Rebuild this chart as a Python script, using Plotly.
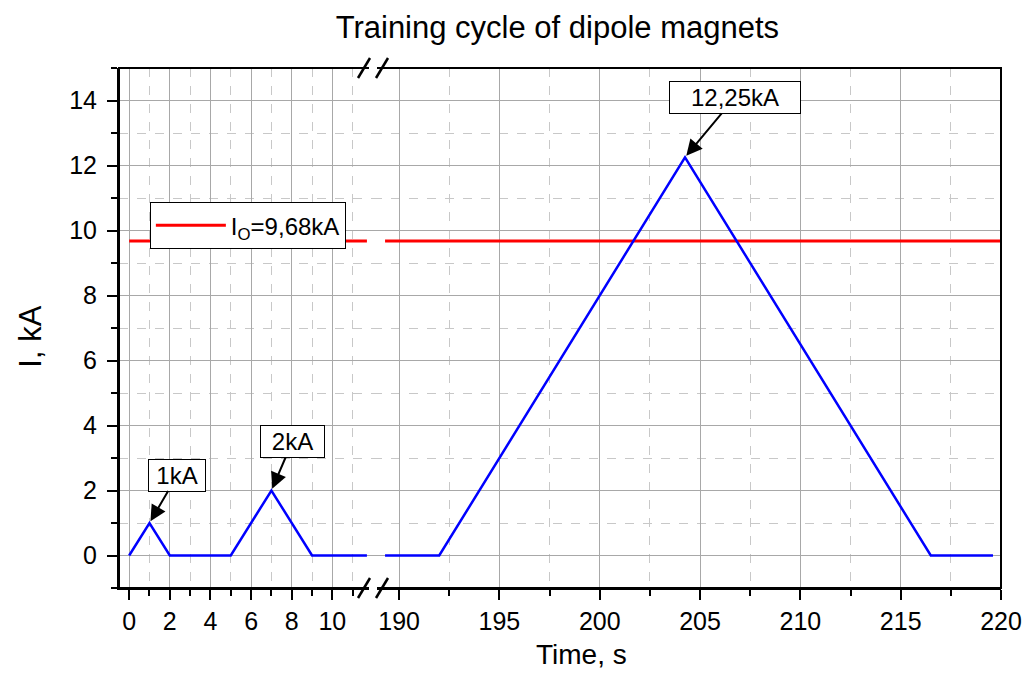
"""Training cycle of dipole magnets: broken time axis rebuilt with two x-axes."""

import plotly.graph_objects as go

# current cycle, left part of the broken axis (s, kA)
t_left = [0, 1, 2, 5, 7, 9, 11.7]
i_left = [0, 1, 0, 0, 2, 0, 0]

# current cycle, right part of the broken axis (s, kA)
t_right = [189.3, 192, 204.25, 216.5, 219.6]
i_right = [0, 0, 12.25, 0, 0]

# operating current level
i_op = 9.68
t_op_left = [0, 11.7]
t_op_right = [189.3, 220]

left_ticks = [0, 2, 4, 6, 8, 10]
left_minor = [1, 3, 5, 7, 9, 11]
right_ticks = [190, 195, 200, 205, 210, 215, 220]
right_minor = [192.5, 197.5, 202.5, 207.5, 212.5, 217.5]

FONT = "Liberation Sans, Arial, sans-serif"
BREAK = 0.288

fig = go.Figure()
fig.add_trace(go.Scatter(x=t_op_left, y=[i_op] * 2, mode="lines",
                         line=dict(color="#ff0000", width=3),
                         name="I<sub>O</sub>=9,68kA", showlegend=True))
fig.add_trace(go.Scatter(x=t_op_right, y=[i_op] * 2, mode="lines", xaxis="x2",
                         line=dict(color="#ff0000", width=3), showlegend=False))
fig.add_trace(go.Scatter(x=t_left, y=i_left, mode="lines",
                         line=dict(color="#0000ff", width=2.5), showlegend=False))
fig.add_trace(go.Scatter(x=t_right, y=i_right, mode="lines", xaxis="x2",
                         line=dict(color="#0000ff", width=2.5), showlegend=False))

grid = dict(showgrid=True, gridcolor="#a8a8a8", gridwidth=1, automargin=False,
            ticks="outside", ticklen=10, tickwidth=2, tickcolor="black",
            showline=True, linecolor="black", linewidth=2, zeroline=False,
            tickfont=dict(size=25))
minor_style = dict(ticks="outside", ticklen=6, tickwidth=2, tickcolor="black",
                   showgrid=True, gridcolor="#c8c8c8", griddash="dash", gridwidth=1)

# the page body keeps an 8px margin, so the figure is sized to fit inside it
fig.update_layout(
    width=1015, height=666,
    margin=dict(l=111, r=22, t=60, b=86),
    paper_bgcolor="white", plot_bgcolor="white",
    font=dict(family=FONT, size=24, color="black"),
    title=dict(text="Training cycle of dipole magnets", x=0.497, xanchor="center",
               xref="paper", y=0.971, yref="container", yanchor="middle",
               font=dict(size=31), automargin=False),
    xaxis=dict(domain=[0, BREAK], range=[-0.5, 12], tickmode="array", tickvals=left_ticks,
               minor=dict(tickmode="array", tickvals=left_minor, **minor_style), **grid),
    xaxis2=dict(domain=[BREAK, 1], range=[188.7, 220], anchor="y", tickmode="array",
                tickvals=right_ticks,
                minor=dict(tickmode="array", tickvals=right_minor, **minor_style), **grid),
    yaxis=dict(range=[-1, 15], tickmode="linear", tick0=0, dtick=2, ticklabelstandoff=5,
               minor=dict(dtick=1, **minor_style), **grid),
    legend=dict(x=0.035, y=0.742, xanchor="left", yanchor="top",
                bordercolor="black", borderwidth=1, bgcolor="white",
                font=dict(size=24), itemwidth=70),
)

# axis titles placed as free text
fig.add_annotation(text="Time, s", xref="paper", yref="paper", x=0.524, y=-0.127,
                   xanchor="center", yanchor="middle", showarrow=False,
                   font=dict(size=28))
fig.add_annotation(text="I, kA", xref="paper", yref="paper", x=-0.1, y=0.483,
                   xanchor="center", yanchor="middle", textangle=-90, showarrow=False,
                   font=dict(size=31))

# labelled peaks
box = dict(bordercolor="black", borderwidth=1, bgcolor="white", borderpad=2,
           height=27, showarrow=True, arrowhead=2, arrowsize=1.6, arrowwidth=2,
           arrowcolor="black", standoff=2, font=dict(size=24))
fig.add_annotation(x=t_left[1], y=i_left[1], text="1kA", width=52,
                   ax=28, ay=-48, **box)
fig.add_annotation(x=t_left[4], y=i_left[4], text="2kA", width=59,
                   ax=21, ay=-49, **box)
fig.add_annotation(x=t_right[2], y=i_right[2], xref="x2", text="12,25kA", width=126,
                   ax=50, ay=-60, **box)

# frame: top and right edges
fig.add_shape(type="rect", xref="paper", yref="paper", x0=0, x1=1, y0=0, y1=1,
              line=dict(color="black", width=2), layer="above")

# axis-break marks at top and bottom
for yanchor in (0, 1):
    fig.add_shape(type="line", xref="paper", yref="paper", xsizemode="pixel",
                  ysizemode="pixel", xanchor=BREAK, yanchor=yanchor,
                  x0=-4, x1=4, y0=0, y1=0, line=dict(color="white", width=5))
    for dx in (-9, 9):
        fig.add_shape(type="line", xref="paper", yref="paper", xsizemode="pixel",
                      ysizemode="pixel", xanchor=BREAK, yanchor=yanchor,
                      x0=dx - 6, x1=dx + 6, y0=-10, y1=10,
                      line=dict(color="black", width=2.5))

fig.write_html("out.html")
